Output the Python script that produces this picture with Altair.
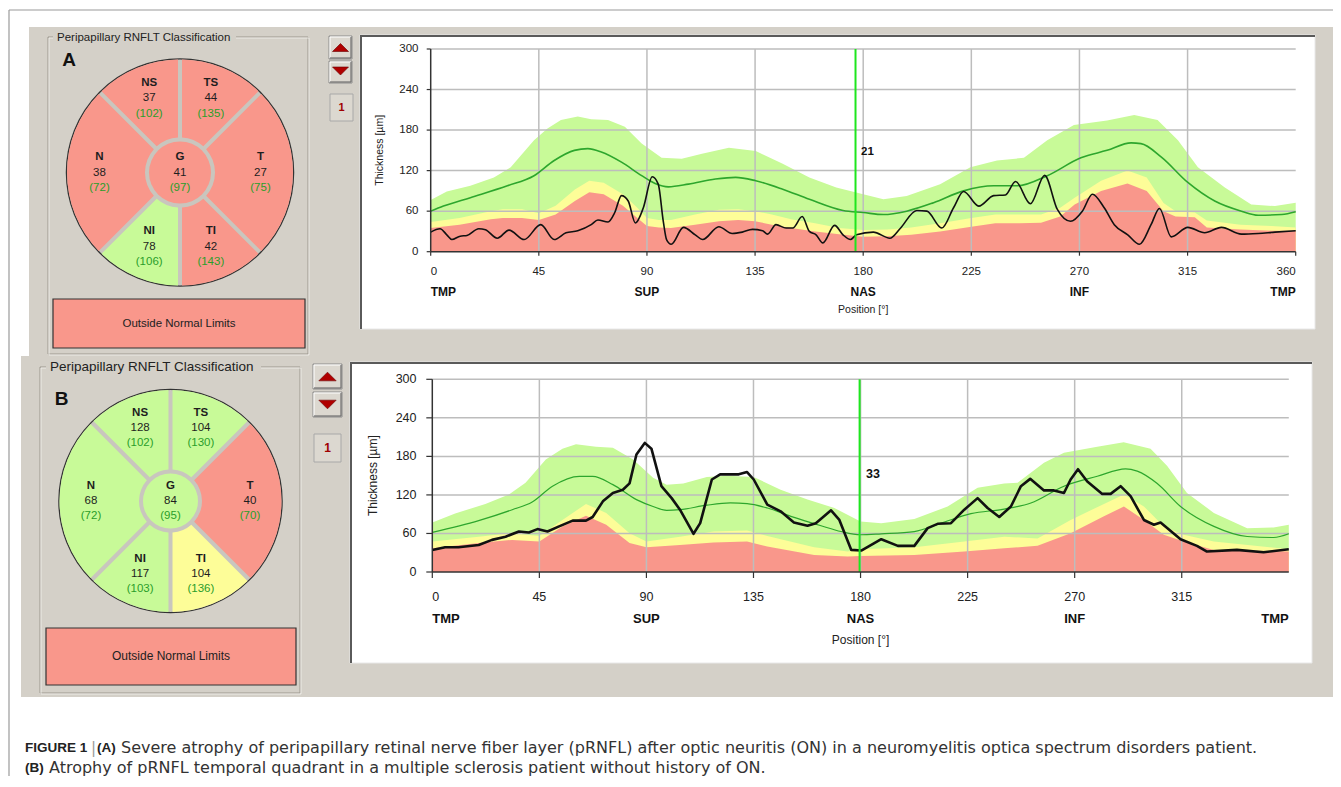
import math
import altair as alt
import pandas as pd

W, H = 1325, 768


def px(X):
    return X - 8


def py(Y):
    return Y - 8


FONT = "Liberation Sans"
CAPFONT = "DejaVu Sans"
CAPBOLD = "Liberation Sans"
GREY = "#d4d0c8"
DIV = "#c9c6be"
RED = "#f9978b"
YEL = "#fdfd98"
GRN = "#c8fa98"
MEANC = "#2da62d"
NORMC = "#2a9e2a"
DARK = "#1e1e1e"
MARK = "#1ee61e"
AXC = "#333333"

# ---------------- data ----------------
sector_names = ["TS", "T", "TI", "NI", "N", "NS"]
sector_start = [0, 45, 135, 180, 225, 315]
sector_end = [45, 135, 180, 225, 315, 360]

A_values = [44, 27, 42, 78, 38, 37]
A_normals = [135, 75, 143, 106, 72, 102]
A_status = ["red", "red", "red", "green", "red", "red"]
A_global = [41]
A_global_normal = [97]
A_global_status = ["red"]

B_values = [104, 40, 104, 117, 68, 128]
B_normals = [130, 70, 136, 103, 72, 102]
B_status = ["green", "red", "yellow", "green", "green", "green"]
B_global = [84]
B_global_normal = [95]
B_global_status = ["green"]

y_ticks = [0, 60, 120, 180, 240, 300]
x_ticks_A = [0, 45, 90, 135, 180, 225, 270, 315, 360]
x_ticks_B = [0, 45, 90, 135, 180, 225, 270, 315]
grid_x = [45, 90, 135, 180, 225, 270, 315]
grid_y = [60, 120, 180, 240, 300]
region_left = ["TMP"]
region_left_pos = [0]
region_mid = ["SUP", "NAS", "INF"]
region_mid_pos = [90, 180, 270]
region_right = ["TMP"]
region_right_pos = [360]

# Panel A profile
A_curve_deg = [0, 3.9, 6.7, 8.8, 12.3, 15.1, 20, 22.8, 27.7, 32.6, 38.9, 45.8, 51.4, 56.3, 61.2,
               66.8, 69.6, 73.8, 76.6, 79.4, 82.2, 85.2, 88.5, 92.2, 94.7, 96.8, 98.2, 100.1, 105.2,
               110.1, 113.2, 119.9, 125.5, 129.7, 133.9, 138.1, 140.2, 143.7, 147.9, 150.7, 154.6,
               157.6, 160.4, 163.2, 168.1, 171.6, 174.7, 177.2, 184.2, 191.1, 195.3, 202.3, 206.5,
               212.7, 217.6, 221.8, 228.1, 234.3, 239.2, 243.4, 249.6, 255.5, 260.8, 266.3, 271.2,
               275.4, 280.3, 284.5, 290.1, 295, 299.8, 303.3, 308.2, 315.1, 322.1, 329.1, 337.4,
               344.4, 351.4, 360]
A_curve_val = [29, 34, 25, 18, 23, 24, 34, 32.5, 20, 32, 18, 40, 18, 28, 31,
               40, 47, 44, 58, 83, 75, 42.5, 65, 111, 100, 45, 17.5, 11, 36,
               25, 18, 37, 27, 29, 33, 31, 26, 40, 35, 35, 52,
               30, 25, 13, 39, 25, 18, 25, 29, 20, 34, 61, 60,
               35, 65, 89, 67.5, 83, 84, 104, 71, 113, 62.5, 45, 60,
               85, 65, 40, 25, 11, 40, 64, 22, 36, 28, 36, 26,
               27, 29, 31]
A_mean_deg = [0, 5.3, 16.5, 31.9, 43, 51.4, 59.8, 65.4, 71, 79.4, 87.8, 93.4, 98.9, 107.3, 118.5,
              126.9, 135.3, 146.5, 157.6, 171.6, 180, 188.4, 198.1, 209.3, 221.8, 234.3, 244.1,
              256.6, 270.6, 281.5, 291.5, 295.6, 304.1, 315.1, 326.3, 337.4, 344.4, 354.2, 360]
A_mean_val = [60, 67.5, 80, 97.5, 112.5, 135, 150, 152.5, 147.5, 132.5, 112.5, 101, 96, 100, 107.5,
              110, 105, 92.5, 77.5, 61, 58, 55, 60, 72.5, 90, 97.5, 97.5,
              112.5, 139, 150, 161, 160, 140, 102.5, 75, 60, 54, 55, 59]
A_upper_deg = [0, 6.7, 16.5, 26.3, 33.3, 43, 48.6, 54.2, 61.2, 66.8, 73.8, 80.8, 87.8, 96.1, 104.5,
               112.9, 124.1, 135.3, 146.5, 157.6, 168.8, 180, 188.4, 198.1, 212, 224.6, 235.7,
               246.9, 256.6, 267.7, 281.5, 292.8, 302.5, 311, 319.3, 330.5, 341.5, 351.4, 360]
A_upper_val = [76.5, 89, 97.5, 110, 125, 165, 182.5, 195, 200, 196, 195, 185, 160, 139, 137.5,
               145, 154, 149, 130, 110, 95, 85, 77.5, 82.5, 100, 125, 135,
               139, 165, 187.5, 194, 202.5, 195, 165, 125, 95, 70, 67.5, 72.5]
A_band_deg = [0, 12, 25, 30, 38, 45, 52, 60, 66, 72, 80, 86, 90, 95, 100, 110, 120, 128, 135, 142,
              150, 160, 170, 180, 190, 200, 212, 225, 235, 245, 254, 262, 268, 279, 290, 298, 305,
              310, 318, 323, 337, 350, 360]
A_red_val = [35, 40, 48, 50, 50, 47, 55, 75, 88, 85, 68, 50, 38, 36, 35, 40, 45, 47, 45, 40,
             35, 30, 26, 22, 23, 25, 30, 37, 42, 42, 43, 52, 70, 90, 101, 90, 60,
             52, 51, 36, 33, 31, 31]
A_yel_val = [44, 50, 60, 63, 63, 57, 68, 92, 105, 102, 85, 65, 50, 47, 47, 55, 62, 63, 60, 55,
             48, 42, 35, 32, 33, 36, 42, 50, 55, 55, 55, 65, 80, 105, 120, 110, 72,
             60, 58, 46, 40, 38, 36]
A_marker_deg = [176.8]
A_marker_val = [21]

# Panel B profile
B_curve_deg = [0, 5.4, 11, 19.5, 25.1, 30.8, 36.4, 40.6, 44.2, 48.4, 53.3, 59, 64.6, 67.4, 71.7,
               75.9, 80.1, 82.9, 85.8, 89.3, 92.1, 96.3, 100.6, 104.1, 109.8, 112.6, 117.5, 121,
               128.8, 132.3, 135.1, 140.8, 146.4, 152, 157.7, 161.2, 167.6, 171.1, 176.1, 180.3,
               188.7, 195.7, 202.6, 208.2, 212.4, 218, 223.6, 229.2, 233.4, 238.3, 243.2, 247.4,
               251.3, 257.1, 261.3, 265.5, 268.3, 271.4, 275.3, 281.6, 285.1, 289.3, 293.5, 299.1,
               303.3, 306.1, 314.5, 321.4, 325.6, 338.2, 349.4, 360]
B_curve_val = [34.4, 38.6, 38.6, 42, 50, 55, 63, 61.6, 66.8, 63, 71, 80, 80, 85.6, 110,
               123, 128, 138, 183, 201, 192, 133.6, 115, 97, 59.5, 76, 144, 152,
               152, 155.5, 144, 105, 94.4, 77, 72, 76, 96, 81, 34.4, 33.4,
               51, 40.7, 40.7, 68.3, 75, 76, 97, 115, 99.6, 85.6, 102, 133.6,
               145, 127, 127, 123, 144, 160, 141, 121.6, 121.6, 133.6, 118, 81,
               73.6, 77, 51, 40.7, 31.8, 34.4, 30.8, 35.5]
B_mean_deg = [0, 19.5, 33.6, 42, 50.5, 61.8, 67.4, 75.9, 85.8, 92.8, 98.5, 104.1, 115.4, 125.3,
              132.3, 140.8, 150.7, 163.4, 171.8, 180, 188.7, 202.6, 213.8, 226.4, 240.4, 251.6,
              265.5, 279.5, 291.4, 296.3, 304.7, 314.5, 328.5, 342.5, 353.6, 360]
B_mean_val = [61.6, 80, 97, 109, 133.6, 149, 149, 136, 112.7, 102, 96, 97, 104, 107.5,
              106.4, 99.6, 86.6, 72, 63, 58, 59.5, 63, 76, 90.8, 98, 107.5,
              133.6, 149, 160.7, 157, 137.7, 102, 71, 55.3, 53.7, 59.5]
B_upper_deg = [0, 9.6, 22.3, 32.2, 39.2, 47.7, 54.7, 60.4, 68.8, 75.9, 84.4, 92.8, 98.5, 105.5,
               115.4, 123.9, 135.1, 146.4, 157.7, 169, 180, 188.7, 202.6, 216.6, 229.2, 240.4,
               246, 257.1, 265.5, 279.5, 290.6, 301.9, 308.9, 317.2, 328.5, 342.5, 353.6, 360]
B_upper_val = [77, 91, 106, 120.5, 139, 175, 192, 199, 195, 193.5, 175, 146.6, 136, 137.7,
               148, 150, 148, 128, 112.7, 99.6, 78.8, 76, 82.4, 102, 131, 137.7,
               138.8, 170, 185.5, 195, 202, 192, 165, 123, 92, 68, 69.4, 73.6]
B_band_deg = [0, 19.5, 33.6, 45, 54.7, 64.6, 73.1, 82.9, 90, 104.1, 118.2, 132.3, 140.8, 160.5,
              174.6, 180, 202.6, 223.6, 240.4, 254.4, 268.3, 282.3, 290.7, 299.1, 307.5, 315.8,
              328.5, 360]
B_red_val = [37, 45, 50, 47.5, 71, 87.6, 73.6, 45, 38.6, 42, 46, 47.5, 39.6, 26.6,
             24, 25, 26.6, 32, 37, 40.7, 60.5, 86.6, 102, 81, 58, 47.5, 34.4, 32]
B_yel_val = [47.5, 55, 60.5, 56, 81, 106, 92, 60.5, 47.5, 55, 63, 64.7, 56, 38.6,
             32, 35.5, 38.6, 47.5, 55, 52, 81, 106, 120.5, 102, 71, 58, 47.5, 35.5]
B_marker_deg = [179.6]
B_marker_val = [33]

panel_title = "Peripapillary RNFLT Classification"
verdict = "Outside Normal Limits"
y_title = "Thickness [µm]"
x_title = "Position [°]"
cap1_a = "FIGURE 1"
cap1_b = "|"
cap1_c = "(A)"
cap1_d = ("Severe atrophy of peripapillary retinal nerve fiber layer (pRNFL) after optic neuritis (ON) "
          "in a neuromyelitis optica spectrum disorders patient.")
cap2_a = "(B)"
cap2_b = "Atrophy of pRNFL temporal quadrant in a multiple sclerosis patient without history of ON."

# ---------------- helpers ----------------
one = pd.DataFrame({"k": [0]})


def rect(x0, y0, x1, y1, fill=None, stroke=None, sw=1.0):
    kw = {}
    if fill is not None:
        kw["fill"] = fill
        kw["fillOpacity"] = 1
    else:
        kw["fill"] = "#ffffff"
        kw["fillOpacity"] = 0
    if stroke is not None:
        kw["stroke"] = stroke
        kw["strokeWidth"] = sw
    return alt.Chart(one).mark_rect(**kw).encode(
        x=alt.value(px(x0)), x2=alt.value(px(x1)), y=alt.value(py(y0)), y2=alt.value(py(y1)))


def vrule(X, Y0, Y1, color, w=1.0):
    return alt.Chart(one).mark_rule(color=color, strokeWidth=w).encode(
        x=alt.value(px(X)), y=alt.value(py(Y0)), y2=alt.value(py(Y1)))


def hrule(Y, X0, X1, color, w=1.0):
    return alt.Chart(one).mark_rule(color=color, strokeWidth=w).encode(
        y=alt.value(py(Y)), x=alt.value(px(X0)), x2=alt.value(px(X1)))


def label(text, X, Y, size, weight="normal", color="#222222", align="left", font=FONT):
    return alt.Chart(one).mark_text(text=text, fontSize=size, fontWeight=weight, color=color,
                                    align=align, baseline="middle", font=font).encode(
        x=alt.value(px(X)), y=alt.value(py(Y)))


UP = "M-1,0.5L1,0.5L0,-0.5Z"
DOWN = "M-1,-0.5L1,-0.5L0,0.5Z"


def arrow(X, Y, shape, size):
    return alt.Chart(one).mark_point(shape=shape, size=size, filled=True, fill="#b00000",
                                     stroke="#6a0000", strokeWidth=0.6, opacity=1).encode(
        x=alt.value(px(X)), y=alt.value(py(Y)))


def button(x0, y0, x1, y1):
    return [rect(x0, y0, x1, y1, fill="#dcd8d0", stroke="#8c8c8c", sw=1),
            hrule(y0 + 1, x0 + 1, x1 - 1, "#ffffff", 1),
            vrule(x0 + 1, y0 + 1, y1 - 1, "#ffffff", 1),
            hrule(y1 - 1, x0 + 1, x1 - 1, "#707070", 1.2),
            vrule(x1 - 1, y0 + 1, y1 - 1, "#707070", 1.2)]


STATUS = alt.Scale(domain=["red", "yellow", "green"], range=[RED, YEL, GRN])
THETA = alt.Scale(domain=[0, 360], range=[0, 2 * math.pi], nice=False, zero=True)


def wheel(values, normals, status, gval, gnorm, gstat, cx, cy, R, r_in, r_disc, r_text, lh, fs, pad):
    sect = pd.DataFrame({
        "name": sector_names, "start": sector_start, "end": sector_end,
        "mid": [(s + e) / 2 for s, e in zip(sector_start, sector_end)],
        "value": [str(v) for v in values], "normal": [f"({n})" for n in normals],
        "status": status})
    g = pd.DataFrame({"name": ["G"], "value": [str(v) for v in gval],
                      "normal": [f"({n})" for n in gnorm], "status": gstat})
    X = alt.value(px(cx))
    Y = alt.value(py(cy))
    bg = alt.Chart(one).mark_arc(theta=0, theta2=2 * math.pi, radius=R + 0.6, fill=DIV,
                                 stroke="#333333", strokeWidth=1.3).encode(x=X, y=Y)
    sectors = alt.Chart(sect).mark_arc(radius=R, radius2=r_in, padAngle=pad).encode(
        theta=alt.Theta("start:Q", scale=THETA, stack=None),
        theta2="end:Q",
        color=alt.Color("status:N", scale=STATUS, legend=None),
        x=X, y=Y)
    disc = alt.Chart(g).mark_arc(theta=0, theta2=2 * math.pi, radius=r_disc).encode(
        color=alt.Color("status:N", scale=STATUS, legend=None), x=X, y=Y)
    layers = [bg, sectors, disc]
    for field, dy, weight, color in [("name", -lh, "bold", DARK), ("value", 0, "normal", DARK),
                                     ("normal", lh, "normal", NORMC)]:
        layers.append(alt.Chart(sect).mark_text(fontSize=fs, fontWeight=weight, color=color, font=FONT,
                                                align="center", baseline="middle", dy=dy).encode(
            theta=alt.Theta("mid:Q", scale=THETA), radius=alt.value(r_text),
            text=f"{field}:N", x=X, y=Y))
        layers.append(alt.Chart(g).mark_text(fontSize=fs, fontWeight=weight, color=color, font=FONT,
                                             align="center", baseline="middle", dy=dy).encode(
            text=f"{field}:N", x=X, y=Y))
    return alt.layer(*layers)


def profile(up_deg, up_val, band_deg, red_val, yel_val, mean_deg, mean_val, cur_deg, cur_val,
            x_ticks, mk_deg, mk_val, x0, x1, y0, y1, st):
    xs = alt.Scale(domain=[0, 360], range=[px(x0), px(x1)], nice=False, zero=False)
    ys = alt.Scale(domain=[0, 300], range=[py(y0), py(y1)], nice=False, zero=False)

    def X(f="deg"):
        return alt.X(f"{f}:Q", scale=xs, axis=None)

    def Y(f="v"):
        return alt.Y(f"{f}:Q", scale=ys, axis=None)

    def XD(v):
        return alt.XDatum(v, scale=xs, axis=None)

    def YD(v):
        return alt.YDatum(v, scale=ys, axis=None)

    up = pd.DataFrame({"deg": up_deg, "v": up_val})
    band = pd.DataFrame({"deg": band_deg, "red": red_val, "yel": yel_val})
    mean = pd.DataFrame({"deg": mean_deg, "v": mean_val})
    cur = pd.DataFrame({"deg": cur_deg, "v": cur_val})
    gx = pd.DataFrame({"deg": grid_x})
    gy = pd.DataFrame({"v": grid_y})
    mk = pd.DataFrame({"deg": mk_deg, "v": mk_val})
    xt = pd.DataFrame({"deg": x_ticks, "lab": [str(t) for t in x_ticks]})
    yt = pd.DataFrame({"v": y_ticks, "lab": [str(t) for t in y_ticks]})
    tk = st["tick"]

    layers = [
        alt.Chart(up).mark_area(color=GRN, opacity=1).encode(x=X(), y=Y(), y2=alt.datum(0)),
        alt.Chart(band).mark_area(color=YEL, opacity=1).encode(x=X(), y=Y("yel"), y2=alt.datum(0)),
        alt.Chart(band).mark_area(color=RED, opacity=1).encode(x=X(), y=Y("red"), y2=alt.datum(0)),
        alt.Chart(gx).mark_rule(color="#bdbdbd", strokeWidth=1.5).encode(
            x=X(), y=YD(0), y2=alt.datum(300)),
        alt.Chart(gy).mark_rule(color="#bdbdbd", strokeWidth=1.5).encode(
            y=Y(), x=XD(0), x2=alt.datum(360)),
        alt.Chart(mean).mark_line(color=MEANC, strokeWidth=st["mw"], interpolate="monotone").encode(
            x=X(), y=Y()),
        alt.Chart(cur).mark_line(color="#111111", strokeWidth=st["cw"], interpolate=st["interp"],
                                 strokeJoin="round").encode(x=X(), y=Y()),
        alt.Chart(mk).mark_rule(color=MARK, strokeWidth=2).encode(
            x=X(), y=YD(0), y2=alt.datum(300)),
        alt.Chart(mk).mark_text(fontSize=st["tfs"], fontWeight="bold", color="#111111", font=FONT,
                                align="left", baseline="middle", dx=st["mdx"]).encode(
            x=X(), y=alt.value(py(st["mky"])), text="v:Q"),
        # axis domain lines
        alt.Chart(one).mark_rule(color=AXC, strokeWidth=1.5).encode(x=XD(0), x2=alt.datum(360), y=YD(0)),
        alt.Chart(one).mark_rule(color=AXC, strokeWidth=1.5).encode(x=XD(0), y=YD(0), y2=alt.datum(300)),
        # ticks
        alt.Chart(xt).mark_rule(color=AXC, strokeWidth=1.2).encode(
            x=X(), y=alt.value(py(y0)), y2=alt.value(py(y0) + tk)),
        alt.Chart(yt).mark_rule(color=AXC, strokeWidth=1.2).encode(
            y=Y(), x=alt.value(px(x0) - tk), x2=alt.value(px(x0))),
        # y tick labels
        alt.Chart(yt).mark_text(fontSize=st["tfs"], color="#222222", font=FONT, align="right",
                                baseline="middle").encode(
            y=Y(), x=alt.value(px(st["ylx"])), text="lab:N"),
    ]
    # x tick labels (flush at both ends)
    for sub, al in [(xt[xt.deg == 0], "left"), (xt[(xt.deg > 0) & (xt.deg < 360)], "center"),
                    (xt[xt.deg == 360], "right")]:
        if len(sub):
            layers.append(alt.Chart(sub).mark_text(fontSize=st["tfs"], color="#222222", font=FONT,
                                                   align=al, baseline="middle").encode(
                x=X(), y=alt.value(py(st["xly"])), text="lab:N"))
    for names, pos, al in [(region_left, region_left_pos, "left"), (region_mid, region_mid_pos, "center"),
                           (region_right, region_right_pos, "right")]:
        d = pd.DataFrame({"name": names, "deg": pos})
        layers.append(alt.Chart(d).mark_text(fontSize=st["rfs"], fontWeight="bold", color="#111111",
                                             font=FONT, align=al, baseline="middle").encode(
            x=X(), y=alt.value(py(st["ry"])), text="name:N"))
    layers.append(alt.Chart(one).mark_text(text=x_title, fontSize=st["afs"], color="#222222", font=FONT,
                                           align="center", baseline="middle").encode(
        x=XD(180), y=alt.value(py(st["xty"]))))
    layers.append(alt.Chart(one).mark_text(text=y_title, fontSize=st["afs"], color="#222222", font=FONT,
                                           align="center", baseline="middle", angle=270).encode(
        x=alt.value(px(st["ytx"])), y=YD(150)))
    return alt.layer(*layers)


# ---------------- composition ----------------
L = []
# outer frame
L.append(hrule(10, 9, 1341, "#9a9a9a", 1.2))
L.append(vrule(9, 10, 787, "#9a9a9a", 1.2))
# grey screen areas
L.append(rect(29, 27, 1335, 357, fill=GREY))
L.append(rect(21, 356, 1335, 697, fill=GREY))

# ---- panel A ----
L.append(rect(48, 37, 308, 354, stroke="#9c988f", sw=1))
L.append(rect(49, 38, 309, 355, stroke="#f4f2ee", sw=0.8))
L.append(rect(53, 31, 236, 43, fill=GREY))
L.append(label(panel_title, 57, 37.5, 11.5))
L.append(label("A", 69, 60, 19, weight="bold", color="#111111", align="center"))
L.append(wheel(A_values, A_normals, A_status, A_global, A_global_normal, A_global_status,
               180, 172.5, 113, 35, 31, 80.5, 15.5, 11.5, 0.034))
L.append(rect(53, 299, 305, 348, fill=RED, stroke="#333333", sw=1.2))
L.append(label(verdict, 179, 323.5, 11.5, align="center"))
L += button(329, 36, 352, 59)
L += button(329, 61, 352, 83)
L.append(arrow(340.5, 47.5, UP, 256))
L.append(arrow(340.5, 71, DOWN, 256))
L.append(rect(330, 94, 353, 121, fill="#dcd8d0", stroke="#a8a8a8", sw=1))
L.append(label("1", 341.5, 107.5, 11, weight="bold", color="#a00000", align="center"))
L.append(rect(360, 35, 1315, 329, fill="#ffffff", stroke="#e8e8e8", sw=1))
L.append(hrule(36, 360, 1315, "#5a5a5a", 2))
L.append(vrule(361, 35, 329, "#5a5a5a", 2))
L.append(profile(A_upper_deg, A_upper_val, A_band_deg, A_red_val, A_yel_val, A_mean_deg, A_mean_val,
                 A_curve_deg, A_curve_val, x_ticks_A, A_marker_deg, A_marker_val,
                 430.7, 1295.7, 251.7, 49,
                 dict(tfs=11.5, tick=4, mw=1.6, cw=1.6, interp="monotone", xly=272, ylx=418.5,
                      mdx=5.5, mky=151.5, rfs=12, ry=292, afs=10.5, xty=310, ytx=380)))

# ---- panel B ----
L.append(rect(40, 367, 300, 693, stroke="#9c988f", sw=1))
L.append(rect(41, 368, 301, 694, stroke="#f4f2ee", sw=0.8))
L.append(rect(46, 359, 261, 375, fill=GREY))
L.append(label(panel_title, 50, 367, 13.5))
L.append(label("B", 61.5, 398.5, 19, weight="bold", color="#111111", align="center"))
L.append(wheel(B_values, B_normals, B_status, B_global, B_global_normal, B_global_status,
               170.5, 501, 111, 31.5, 27.5, 79.5, 15, 11.5, 0.035))
L.append(rect(46, 628, 296, 685, fill=RED, stroke="#333333", sw=1.2))
L.append(label(verdict, 171, 656, 12, align="center"))
L += button(313, 364, 342, 389)
L += button(313, 392, 342, 417)
L.append(arrow(327.5, 376.5, UP, 300))
L.append(arrow(327.5, 404.5, DOWN, 300))
L.append(rect(314, 434, 341, 462, fill="#dcd8d0", stroke="#a8a8a8", sw=1))
L.append(label("1", 327.5, 448, 12, weight="bold", color="#a00000", align="center"))
L.append(rect(350, 362, 1312, 663, fill="#ffffff", stroke="#e8e8e8", sw=1))
L.append(hrule(363, 350, 1312, "#5a5a5a", 2))
L.append(vrule(351, 362, 663, "#5a5a5a", 2))
L.append(profile(B_upper_deg, B_upper_val, B_band_deg, B_red_val, B_yel_val, B_mean_deg, B_mean_val,
                 B_curve_deg, B_curve_val, x_ticks_B, B_marker_deg, B_marker_val,
                 432.3, 1288.8, 572, 379.3,
                 dict(tfs=12.5, tick=6, mw=1.2, cw=2.6, interp="linear", xly=597, ylx=416.5,
                      mdx=6.5, mky=474, rfs=13, ry=619, afs=12, xty=640, ytx=372.5)))

# ---- caption ----
CAPC = "#333333"
L.append(label(cap1_a, 25, 748, 13.5, weight="bold", color="#222222", font=CAPBOLD))
L.append(label(cap1_b, 91, 748, 15, color="#999999", font=CAPFONT))
L.append(label(cap1_c, 97, 748, 13.5, weight="bold", color="#222222", font=CAPBOLD))
L.append(label(cap1_d, 121, 748, 16, color=CAPC, font=CAPFONT))
L.append(label(cap2_a, 25, 768, 13.5, weight="bold", color="#222222", font=CAPBOLD))
L.append(label(cap2_b, 49, 768, 16, color=CAPC, font=CAPFONT))

chart = alt.layer(*L).resolve_scale(x="independent", y="independent").properties(
    width=W, height=H, autosize=alt.AutoSizeParams(type="none"), padding=0, background="white"
).configure_view(stroke=None)

chart.save("out.html", embed_options={"renderer": "svg", "actions": False})
